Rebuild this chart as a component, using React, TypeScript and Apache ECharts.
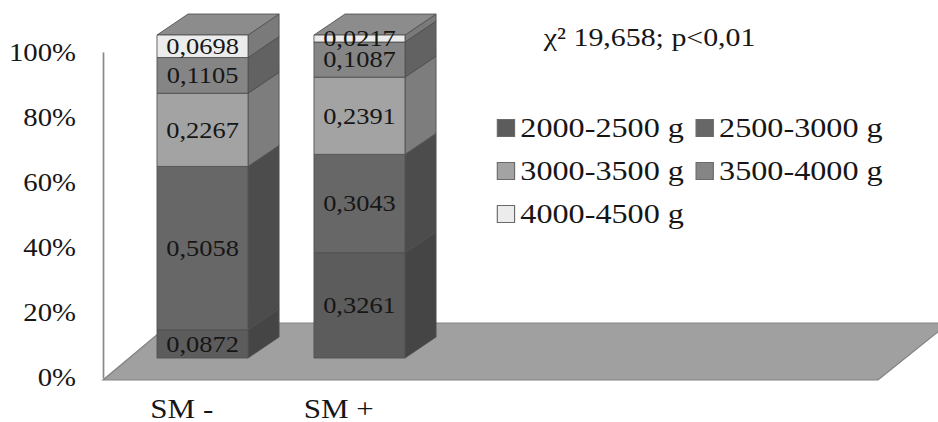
import React, { useEffect, useRef } from "react";
import * as echarts from "echarts";

// The whole drawing is laid out in a narrower box and stretched horizontally.
const STRETCH = 1.15;
const WIDTH = 938 / STRETCH;
const HEIGHT = 422;
const FONT = "Liberation Serif";

const categories = ["SM -", "SM +"];
const weightClasses = ["2000-2500 g", "2500-3000 g", "3000-3500 g", "3500-4000 g", "4000-4500 g"];
// Share of newborns in each weight class, per group (stacked bottom to top)
const share2000 = [0.0872, 0.3261];
const share2500 = [0.5058, 0.3043];
const share3000 = [0.2267, 0.2391];
const share3500 = [0.1105, 0.1087];
const share4000 = [0.0698, 0.0217];
const shares = [share2000, share2500, share3000, share3500, share4000];
const yTickStep = 0.2;
const statText = "χ² 19,658; p<0,01";

// Face shading of the 3D columns
const frontColors = ["#5c5c5c", "#676767", "#a3a3a3", "#858585", "#ececec"];
const sideColors = ["#454545", "#4c4c4c", "#7d7d7d", "#626262", "#7a7a7a"];
const topColors = ["#707070", "#7a7a7a", "#b3b3b3", "#939393", "#8c8c8c"];
const EDGE = "#505050";

const BAR_FRACTION = 0.58;
const DEPTH_X = 27;
const DEPTH_Y = -21;

const fmt = (v: number) => v.toFixed(4).replace(".", ",");

export default function App() {
  const ref = useRef<HTMLDivElement>(null);

  useEffect(() => {
    if (!ref.current) return;
    const chart = echarts.init(ref.current, null, { renderer: "svg" });

    const series = shares.map((vals, si) => {
      const data = vals.map((v, ci) => {
        let base = 0;
        for (let k = 0; k < si; k++) base += shares[k][ci];
        return [ci, base, base + v, v];
      });
      return {
        type: "custom",
        name: weightClasses[si],
        xAxisIndex: 0,
        yAxisIndex: 0,
        itemStyle: { color: frontColors[si] },
        encode: { x: 0, y: [1, 2] },
        data,
        renderItem: (params: any, api: any) => {
          const ci = api.value(0);
          const lo = api.value(1);
          const hi = api.value(2);
          const v = api.value(3);
          const pLo = api.coord([ci, lo]);
          const pHi = api.coord([ci, hi]);
          const w = api.size([1, 0])[0] * BAR_FRACTION;
          const xL = pLo[0] - w / 2;
          const xR = pLo[0] + w / 2;
          const yB = pLo[1];
          const yT = pHi[1];
          return {
            type: "group",
            children: [
              {
                type: "polygon",
                shape: {
                  points: [
                    [xR, yB],
                    [xR + DEPTH_X, yB + DEPTH_Y],
                    [xR + DEPTH_X, yT + DEPTH_Y],
                    [xR, yT],
                  ],
                },
                style: { fill: sideColors[si], stroke: EDGE, lineWidth: 0.8 },
              },
              {
                type: "polygon",
                shape: {
                  points: [
                    [xL, yT],
                    [xR, yT],
                    [xR + DEPTH_X, yT + DEPTH_Y],
                    [xL + DEPTH_X, yT + DEPTH_Y],
                  ],
                },
                style: { fill: topColors[si], stroke: EDGE, lineWidth: 0.8 },
              },
              {
                type: "rect",
                shape: { x: xL, y: yT, width: w, height: yB - yT },
                style: { fill: frontColors[si], stroke: EDGE, lineWidth: 0.8 },
              },
              {
                type: "text",
                x: (xL + xR) / 2,
                y: (yT + yB) / 2,
                z2: 100,
                style: {
                  text: fmt(v),
                  fill: "#161616",
                  fontSize: 23,
                  fontFamily: FONT,
                  align: "center",
                  verticalAlign: "middle",
                },
              },
            ],
          };
        },
      };
    });

    const floorX = [103, 878, 949, 171].map((x) => x / STRETCH);

    chart.setOption({
      animation: false,
      backgroundColor: "#ffffff",
      title: {
        text: statText,
        left: 538 / STRETCH,
        top: 19,
        textStyle: { fontSize: 26, fontWeight: "normal", fontFamily: FONT, color: "#161616" },
      },
      legend: {
        data: weightClasses,
        left: 491 / STRETCH,
        top: 106.5,
        width: 340,
        icon: "rect",
        itemWidth: 15,
        itemHeight: 17,
        itemGap: 10,
        itemStyle: { borderColor: "#6a6a6a", borderWidth: 1 },
        textStyle: { fontSize: 28, lineHeight: 33, fontFamily: FONT, color: "#161616" },
      },
      graphic: {
        elements: [
          {
            type: "polygon",
            z: -1,
            shape: {
              points: [
                [floorX[0], 380],
                [floorX[1], 380],
                [floorX[2], 323],
                [floorX[3], 323],
              ],
            },
            style: { fill: "#a0a0a0", stroke: "#838383", lineWidth: 1.2 },
          },
        ],
      },
      grid: [
        { left: 176.1 - 68.25, width: 273, top: 35, height: 327 },
        { left: 103 / STRETCH, width: 1, top: 53, height: 325 },
      ],
      xAxis: [
        {
          type: "category",
          gridIndex: 0,
          data: categories,
          axisLine: { show: false },
          axisTick: { show: false },
          axisLabel: {
            margin: 37,
            fontSize: 27,
            fontFamily: FONT,
            color: "#161616",
            padding: [0, 36, 0, 0],
          },
        },
        { type: "value", gridIndex: 1, show: false },
      ],
      yAxis: [
        { type: "value", gridIndex: 0, min: 0, max: 1, show: false },
        {
          type: "value",
          gridIndex: 1,
          min: 0,
          max: 1,
          interval: yTickStep,
          axisLine: { show: true, lineStyle: { color: "#8a8a8a", width: 1.5 } },
          axisTick: { show: false },
          splitLine: { show: false },
          axisLabel: {
            margin: 103 / STRETCH - 76 / STRETCH,
            fontSize: 25,
            fontFamily: FONT,
            color: "#161616",
            formatter: (v: number) => `${Math.round(v * 100)}%`,
          },
        },
      ],
      series,
    });

    return () => chart.dispose();
  }, []);

  return (
    <div
      ref={ref}
      style={{
        position: "fixed",
        left: 0,
        top: 0,
        width: WIDTH,
        height: HEIGHT,
        transform: `scaleX(${STRETCH})`,
        transformOrigin: "0 0",
        background: "#ffffff",
      }}
    />
  );
}
